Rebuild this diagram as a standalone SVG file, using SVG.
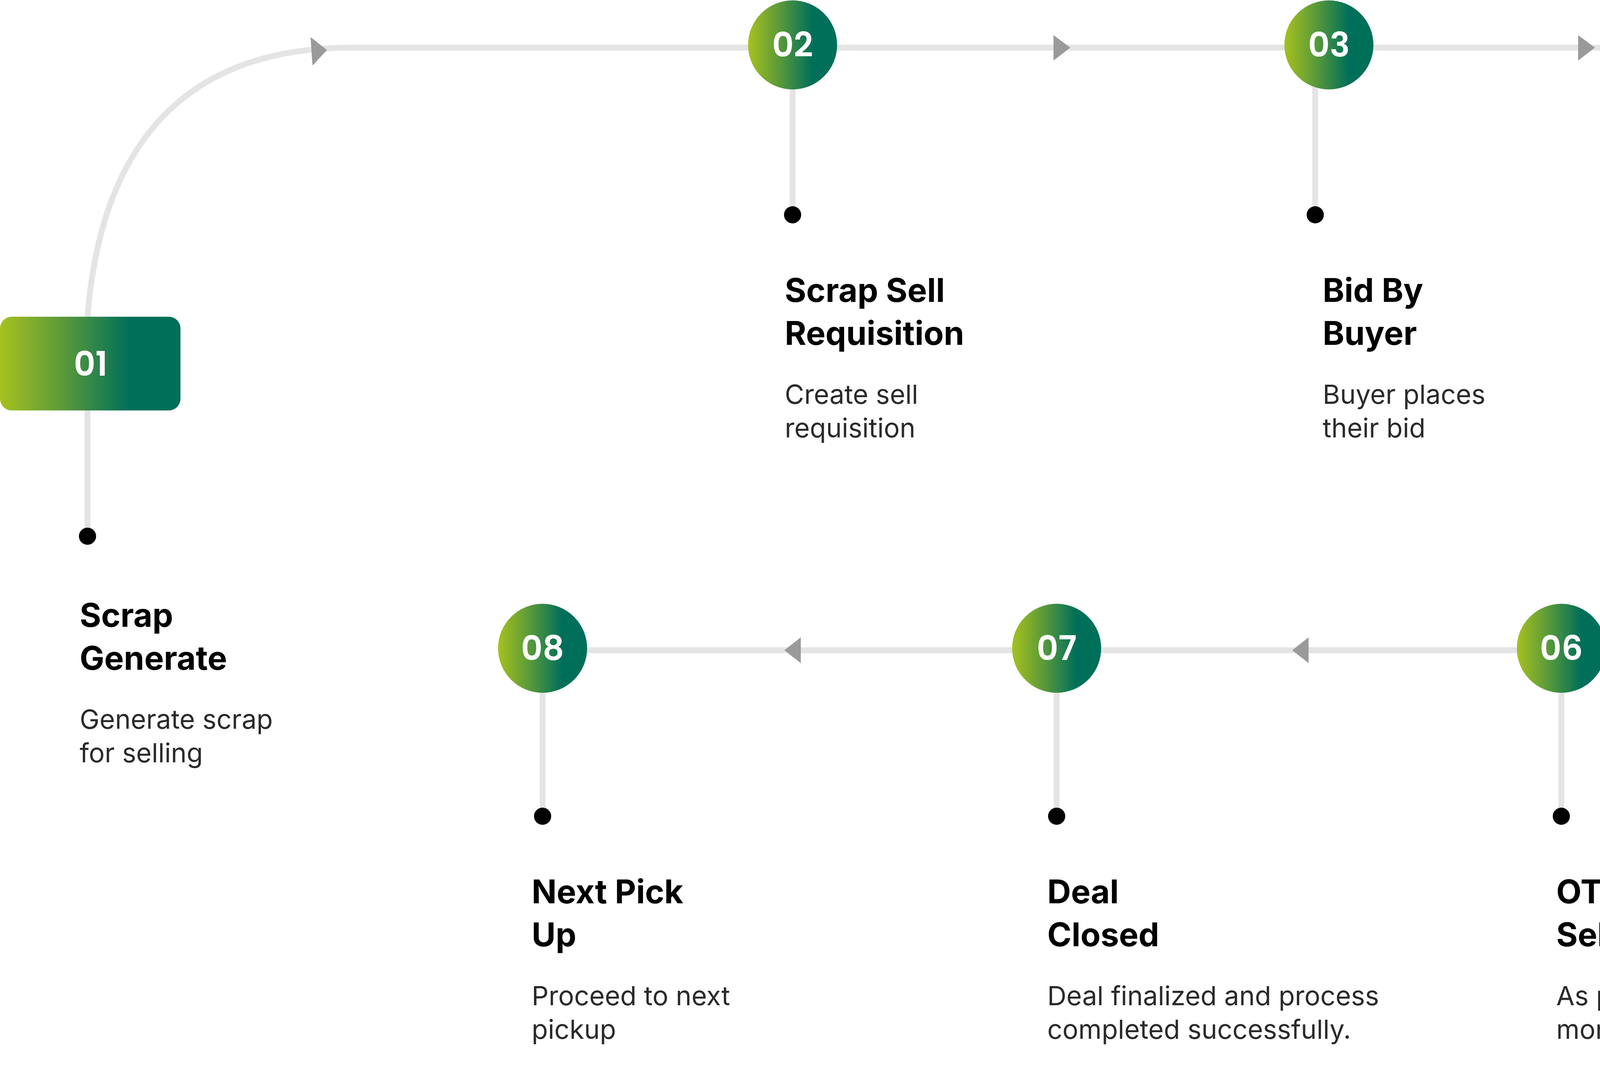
<svg xmlns="http://www.w3.org/2000/svg" width="6388" height="2768" viewBox="0 0 6388 2768">
<defs>
<linearGradient id="g" x1="0" y1="0" x2="1" y2="0">
<stop offset="0" stop-color="#a6c11f"/><stop offset="0.35" stop-color="#5a9a3a"/><stop offset="0.72" stop-color="#006f5a"/><stop offset="1" stop-color="#006f5a"/>
</linearGradient>
<style>
.ln{fill:none;stroke:#e4e4e4;stroke-width:15}
.ar{fill:#9a9a9a}
.dot{fill:#000}
.num{font-family:Poppins,Inter,"Liberation Sans",sans-serif;font-weight:600;font-size:86px;fill:#fff;text-anchor:middle}
.t{font-family:Inter,"Liberation Sans",sans-serif;font-weight:700;font-size:84px;fill:#000}
.d{font-family:Inter,"Liberation Sans",sans-serif;font-size:68px;fill:#2a2a2a}
</style>
</defs>
<rect width="6388" height="2768" fill="#fff"/>
<g id="connectors">
<path class="ln" d="M224 811 C 260 360 480 122 900 122 L 5600 122 C 5990 160 6264 500 6264 950 C 6264 1380 5960 1640 5573 1665 L 1389 1665"/>
<line class="ln" x1="224" y1="1051" x2="224" y2="1373"/>
<line class="ln" x1="2029" y1="200" x2="2029" y2="550"/>
<line class="ln" x1="3367" y1="200" x2="3367" y2="550"/>
<line class="ln" x1="4768" y1="200" x2="4768" y2="550"/>
<line class="ln" x1="5300" y1="1740" x2="5300" y2="2090"/>
<line class="ln" x1="3997" y1="1740" x2="3997" y2="2090"/>
<line class="ln" x1="2705" y1="1740" x2="2705" y2="2090"/>
<line class="ln" x1="1389" y1="1740" x2="1389" y2="2090"/>
<polygon class="ar" points="795,95 837,128 800,168"/>
<polygon class="ar" points="2697,90 2740,122 2697,155"/>
<polygon class="ar" points="4040,90 4083,122 4040,155"/>
<polygon class="ar" points="6232,918 6296,918 6264,955"/>
<polygon class="ar" points="2050,1632 2008,1665 2050,1698"/>
<polygon class="ar" points="3350,1632 3308,1665 3350,1698"/>
<polygon class="ar" points="4646,1632 4604,1665 4646,1698"/>
<circle class="dot" cx="224" cy="1373" r="22"/>
<circle class="dot" cx="2029" cy="550" r="22"/>
<circle class="dot" cx="3367" cy="550" r="22"/>
<circle class="dot" cx="4768" cy="550" r="22"/>
<circle class="dot" cx="5300" cy="2090" r="22"/>
<circle class="dot" cx="3997" cy="2090" r="22"/>
<circle class="dot" cx="2705" cy="2090" r="22"/>
<circle class="dot" cx="1389" cy="2090" r="22"/>
</g>
<g id="n01"><rect x="0" y="811" width="462" height="240" rx="30" fill="url(#g)"/><text class="num" x="232" y="962">01</text>
<text class="t" x="204" y="1605">Scrap</text><text class="t" x="204" y="1715">Generate</text>
<text class="d" x="204" y="1866">Generate scrap</text><text class="d" x="204" y="1952">for selling</text></g>
<g id="n02"><circle cx="2029" cy="115" r="114" fill="url(#g)"/><text class="num" x="2029" y="145">02</text>
<text class="t" x="2009" y="773">Scrap Sell</text><text class="t" x="2009" y="883">Requisition</text>
<text class="d" x="2009" y="1034">Create sell</text><text class="d" x="2009" y="1120">requisition</text></g>
<g id="n03"><circle cx="3402" cy="115" r="114" fill="url(#g)"/><text class="num" x="3402" y="145">03</text>
<text class="t" x="3386" y="773">Bid By</text><text class="t" x="3386" y="883">Buyer</text>
<text class="d" x="3386" y="1034">Buyer places</text><text class="d" x="3386" y="1120">their bid</text></g>
<g id="n04"><circle cx="4771" cy="115" r="114" fill="url(#g)"/><text class="num" x="4771" y="145">04</text>
<text class="t" x="4746" y="773">Bid</text><text class="t" x="4746" y="883">Acceptance</text>
<text class="d" x="4746" y="1034">Bid accepted</text><text class="d" x="4746" y="1120">by seller</text></g>
<g id="n05"><circle cx="5300" cy="1660" r="114" fill="url(#g)"/><text class="num" x="5300" y="1690">05</text>
<text class="t" x="5276" y="2313">Qty / Price Revision in</text><text class="t" x="5276" y="2423">Sell Requistion by Seller</text>
<text class="d" x="5276" y="2574">Seller at the time of pick up</text><text class="d" x="5276" y="2660">based on Mutual Understanding</text></g>
<g id="n06"><circle cx="3997" cy="1660" r="114" fill="url(#g)"/><text class="num" x="3997" y="1690">06</text>
<text class="t" x="3984" y="2313">OTP given by</text><text class="t" x="3984" y="2423">Seller to Buyer</text>
<text class="d" x="3984" y="2574">As proof of</text><text class="d" x="3984" y="2660">money received</text></g>
<g id="n07"><circle cx="2705" cy="1660" r="114" fill="url(#g)"/><text class="num" x="2705" y="1690">07</text>
<text class="t" x="2681" y="2313">Deal</text><text class="t" x="2681" y="2423">Closed</text>
<text class="d" x="2681" y="2574">Deal finalized and process</text><text class="d" x="2681" y="2660">completed successfully.</text></g>
<g id="n08"><circle cx="1389" cy="1660" r="114" fill="url(#g)"/><text class="num" x="1389" y="1690">08</text>
<text class="t" x="1361" y="2313">Next Pick</text><text class="t" x="1361" y="2423">Up</text>
<text class="d" x="1361" y="2574">Proceed to next</text><text class="d" x="1361" y="2660">pickup</text></g>
</svg>
